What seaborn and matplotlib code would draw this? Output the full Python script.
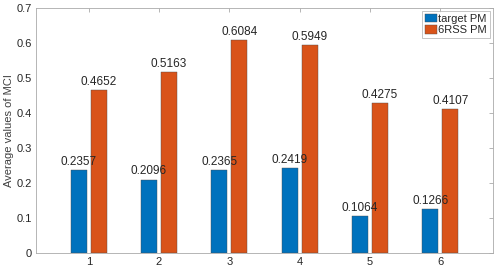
import pandas as pd
import matplotlib
matplotlib.use("Agg")
import matplotlib.pyplot as plt
import seaborn as sns

groups = ["1", "2", "3", "4", "5", "6"]
target_pm = [0.2357, 0.2096, 0.2365, 0.2419, 0.1064, 0.1266]
rss_pm = [0.4652, 0.5163, 0.6084, 0.5949, 0.4275, 0.4107]
series = ["target PM", "6RSS PM"]
colors = ["#0072BD", "#D95319"]

df = pd.DataFrame({
    "group": groups * 2,
    "value": target_pm + rss_pm,
    "series": [series[0]] * len(groups) + [series[1]] * len(groups),
})

sns.set_style("white")
plt.rcParams["font.family"] = ["Liberation Sans", "DejaVu Sans"]

fig = plt.figure(figsize=(5, 2.72), dpi=100)
ax = fig.add_axes([0.072, 0.07, 0.914, 0.901])

sns.barplot(data=df, x="group", y="value", hue="series", palette=colors,
            width=0.57, gap=0.2, ax=ax, errorbar=None, saturation=1,
            edgecolor="#4a4a4a", linewidth=0.3)

# value labels on top of each bar
for cont in ax.containers:
    ax.bar_label(cont, fmt="%.4f", fontsize=8.5, padding=1.5)

ax.set_xlim(-0.75, 5.75)
ax.set_ylim(0, 0.7)
ax.set_yticks([0, 0.1, 0.2, 0.3, 0.4, 0.5, 0.6, 0.7])
ax.set_yticklabels(["0", "0.1", "0.2", "0.3", "0.4", "0.5", "0.6", "0.7"])
ax.set_xlabel("")
ax.set_ylabel("Average values of MCI", fontsize=8, color="#404040", labelpad=2)
ax.tick_params(direction="in", length=3, width=0.6, labelsize=8,
               colors="#262626", top=True, right=True, pad=3)
ax.tick_params(axis="both", color="#aaaaaa")
for s in ax.spines.values():
    s.set_color("#aaaaaa")
    s.set_linewidth(0.6)

leg = ax.legend(loc="upper right", fontsize=8, frameon=True, fancybox=False,
                handlelength=1.1, handleheight=0.8, handletextpad=0.1,
                borderpad=0.25, labelspacing=0.1, borderaxespad=0.3)
leg.get_frame().set_edgecolor("#aaaaaa")
leg.get_frame().set_linewidth(0.6)

fig.savefig("out.png", dpi=100)
